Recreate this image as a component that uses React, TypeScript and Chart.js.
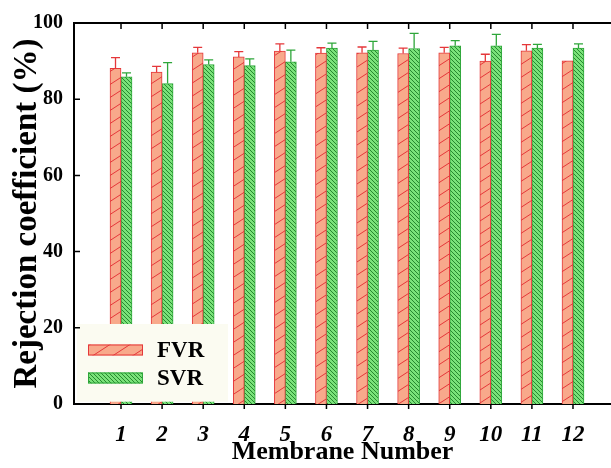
import React, { useEffect, useRef } from 'react';
import { Chart, registerables } from 'chart.js';

Chart.register(...registerables);

const membranes = [1, 2, 3, 4, 5, 6, 7, 8, 9, 10, 11, 12];
const fvrValues = [88.1, 87.1, 92.2, 91.1, 92.6, 92.1, 92.2, 92.0, 92.2, 90.0, 92.7, 90.1];
const fvrErrors = [2.8, 1.5, 1.4, 1.4, 1.9, 1.4, 1.5, 1.4, 1.4, 1.8, 1.6, 0];
const svrValues = [85.9, 84.1, 89.1, 88.8, 89.8, 93.4, 92.9, 93.3, 94.0, 94.0, 93.4, 93.4];
const svrErrors = [1.0, 5.5, 1.2, 1.8, 3.1, 1.3, 2.3, 4.0, 1.4, 3.0, 1.0, 1.1];
const yTickValues = [0, 20, 40, 60, 80, 100];
const seriesLabels = ['FVR', 'SVR'];

const SERIF = '"Liberation Serif", "Times New Roman", serif';

function makeFvrPattern(ctx: CanvasRenderingContext2D) {
  const w = 20, h = 13;
  const c = document.createElement('canvas');
  c.width = w; c.height = h;
  const g = c.getContext('2d')!;
  g.fillStyle = '#f8a98b';
  g.fillRect(0, 0, w, h);
  g.strokeStyle = '#e5373a';
  g.lineWidth = 1;
  g.beginPath();
  g.moveTo(-w, 2 * h); g.lineTo(2 * w, -h);
  g.moveTo(-2 * w, 2 * h); g.lineTo(w, -h);
  g.moveTo(0, 2 * h); g.lineTo(3 * w, -h);
  g.stroke();
  return ctx.createPattern(c, 'repeat')!;
}

function makeSvrPattern(ctx: CanvasRenderingContext2D) {
  const s = 4;
  const c = document.createElement('canvas');
  c.width = s; c.height = s;
  const g = c.getContext('2d')!;
  g.fillStyle = '#7ae27a';
  g.fillRect(0, 0, s, s);
  g.strokeStyle = '#27882f';
  g.lineWidth = 1;
  g.beginPath();
  g.moveTo(-1, -1); g.lineTo(s + 1, s + 1);
  g.moveTo(-1, s - 1); g.lineTo(1, s + 1);
  g.moveTo(s - 1, -1); g.lineTo(s + 1, 1);
  g.stroke();
  return ctx.createPattern(c, 'repeat')!;
}

export default function App() {
  const ref = useRef<HTMLCanvasElement | null>(null);

  useEffect(() => {
    document.body.style.margin = '0';
    const canvas = ref.current!;
    const ctx = canvas.getContext('2d')!;
    const fvrPattern = makeFvrPattern(ctx);
    const svrPattern = makeSvrPattern(ctx);
    const borderColors = ['#e5373a', '#2ea63a'];
    const patterns = [fvrPattern, svrPattern];
    const errors = [fvrErrors, svrErrors];
    const values = [fvrValues, svrValues];

    const decorPlugin = {
      id: 'decor',
      afterDatasetsDraw(chart: any) {
        const c = chart.ctx as CanvasRenderingContext2D;
        const yScale = chart.scales.y;
        const area = chart.chartArea;
        c.save();
        for (let d = 0; d < 2; d++) {
          const meta = chart.getDatasetMeta(d);
          meta.data.forEach((el: any, i: number) => {
            const e = errors[d][i];
            if (!e) return;
            const yTop = yScale.getPixelForValue(values[d][i] + e);
            const yBase = yScale.getPixelForValue(values[d][i]);
            c.strokeStyle = borderColors[d];
            c.lineWidth = 1.3;
            c.beginPath();
            c.moveTo(el.x, yBase);
            c.lineTo(el.x, yTop);
            c.moveTo(el.x - 4.5, yTop);
            c.lineTo(el.x + 4.5, yTop);
            c.stroke();
          });
        }
        const lx = area.left + 3;
        const ly = yScale.getPixelForValue(21);
        const lw = 151;
        const lh = yScale.getPixelForValue(0.6) - ly;
        c.fillStyle = '#fbfbf1';
        c.fillRect(lx, ly, lw, lh);
        const swX = lx + 11;
        const swW = 55;
        const swH = 11;
        const rowsY = [ly + 26, ly + 54];
        for (let d = 0; d < 2; d++) {
          const cy = rowsY[d];
          c.fillStyle = patterns[d];
          c.fillRect(swX, cy - swH / 2, swW, swH);
          c.strokeStyle = borderColors[d];
          c.lineWidth = 1;
          c.strokeRect(swX + 0.5, cy - swH / 2 + 0.5, swW - 1, swH - 1);
          c.fillStyle = '#000';
          c.font = 'bold 23px ' + SERIF;
          c.textAlign = 'left';
          c.textBaseline = 'middle';
          c.fillText(seriesLabels[d], swX + 69, cy + 1);
        }
        c.restore();
      },
      afterDraw(chart: any) {
        const c = chart.ctx as CanvasRenderingContext2D;
        const yScale = chart.scales.y;
        const xScale = chart.scales.x;
        const area = chart.chartArea;
        c.save();
        c.strokeStyle = '#000';
        c.lineWidth = 2;
        c.beginPath();
        c.moveTo(area.left - 1, area.top);
        c.lineTo(area.right, area.top);
        c.stroke();
        c.lineWidth = 1.5;
        c.beginPath();
        yTickValues.forEach((v) => {
          if (v === 0 || v === 100) return;
          const y = yScale.getPixelForValue(v);
          c.moveTo(area.left, y);
          c.lineTo(area.left + 6, y);
        });
        membranes.forEach((m) => {
          const x = xScale.getPixelForValue(m);
          c.moveTo(x, area.bottom);
          c.lineTo(x, area.bottom + 5);
          c.moveTo(x, area.top);
          c.lineTo(x, area.top + 6);
        });
        c.stroke();
        c.restore();
      },
    };

    const chart = new Chart(ctx, {
      type: 'bar',
      data: {
        datasets: [
          {
            label: seriesLabels[0],
            data: membranes.map((m, i) => ({ x: m, y: fvrValues[i] })),
            backgroundColor: fvrPattern,
            borderColor: borderColors[0],
            borderWidth: 1,
            barThickness: 11,
          },
          {
            label: seriesLabels[1],
            data: membranes.map((m, i) => ({ x: m, y: svrValues[i] })),
            backgroundColor: svrPattern,
            borderColor: borderColors[1],
            borderWidth: 1,
            barThickness: 11,
          },
        ],
      },
      options: {
        animation: false,
        responsive: false,
        maintainAspectRatio: false,
        layout: { padding: { top: 23, right: 0, left: 0, bottom: 0 } },
        plugins: {
          legend: { display: false },
          tooltip: { enabled: false },
        },
        scales: {
          x: {
            type: 'linear',
            offset: false,
            min: -0.144,
            max: 12.925,
            afterFit: (s: any) => { s.height = 64; },
            afterBuildTicks: (s: any) => { s.ticks = membranes.map((v) => ({ value: v })); },
            grid: { display: false, drawTicks: true, tickLength: 5 },
            border: { display: true, color: '#000', width: 2 },
            ticks: {
              color: '#000',
              padding: 12,
              autoSkip: false,
              maxRotation: 0,
              font: { family: SERIF, size: 23, weight: 'bold', style: 'italic' },
              callback: (v: any) => String(v),
            },
            title: {
              display: true,
              text: 'Membrane Number',
              color: '#000',
              padding: { top: 0, bottom: 0 },
              font: { family: SERIF, size: 26, weight: 'bold' },
            },
          },
          y: {
            min: 0,
            max: 100,
            afterFit: (s: any) => { s.width = 74; },
            afterBuildTicks: (s: any) => { s.ticks = yTickValues.map((v) => ({ value: v })); },
            grid: { display: false, drawTicks: false },
            border: { display: true, color: '#000', width: 2 },
            ticks: {
              color: '#000',
              padding: 11,
              font: { family: SERIF, size: 20, weight: 'bold' },
            },
            title: {
              display: true,
              text: 'Rejection coefficient (%)',
              color: '#000',
              padding: { top: 8, bottom: 0 },
              font: { family: SERIF, size: 33, weight: 'bold' },
            },
          },
        },
      },
      plugins: [decorPlugin],
    } as any);

    return () => chart.destroy();
  }, []);

  return (
    <div style={{ position: 'absolute', left: 0, top: 0, width: 611, height: 468, background: '#fff' }}>
      <canvas ref={ref} width={611} height={468} style={{ display: 'block', width: 611, height: 468 }} />
    </div>
  );
}
